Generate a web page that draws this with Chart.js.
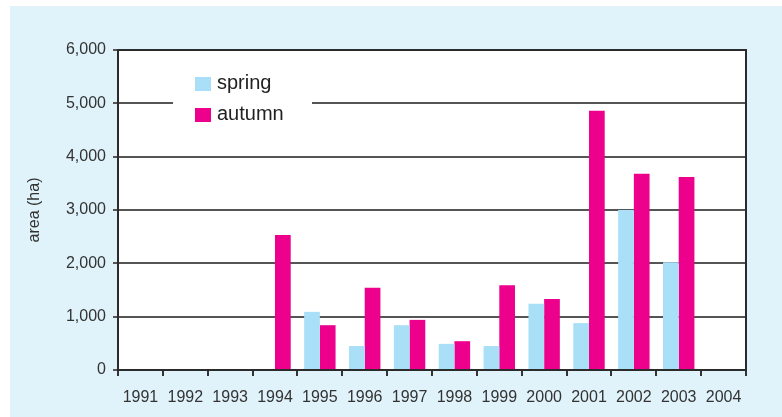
<!DOCTYPE html>
<html>
<head>
<meta charset="utf-8">
<script src="https://cdn.jsdelivr.net/npm/chart.js@4.4.0/dist/chart.umd.min.js"></script>
<style>
  html,body{margin:0;padding:0;background:#fff;}
  #wrap{position:absolute;left:10px;top:6px;width:772px;height:411px;background:#e0f2fa;}
</style>
</head>
<body>
<div id="wrap"><canvas id="c" width="772" height="411"></canvas></div>
<script>
const years = ['1991','1992','1993','1994','1995','1996','1997','1998','1999','2000','2001','2002','2003','2004'];
const spring = [null,null,null,null,1090,450,840,490,450,1240,880,3000,2020,null];
const autumn = [null,null,null,2530,840,1540,940,540,1590,1330,4860,3680,3620,null];
const yTicks = [0,1000,2000,3000,4000,5000,6000];

const FONT = "'Liberation Sans', Arial, sans-serif";

// white plot area behind the grid
const plotBg = {
  id:'plotBg',
  beforeDraw(chart){
    const {ctx, chartArea:a} = chart;
    ctx.save();
    ctx.fillStyle = '#fff';
    ctx.fillRect(a.left, a.top, a.right-a.left, a.bottom-a.top);
    ctx.restore();
  }
};

// legend box sits on top of the 5,000 gridline, so draw it after the grid
const insideLegend = {
  id:'insideLegend',
  afterDatasetsDraw(chart){
    const {ctx, chartArea:a} = chart;
    ctx.save();
    ctx.fillStyle = '#fff';
    ctx.fillRect(a.left+55, a.top+12, 139, 68);
    chart.data.datasets.forEach((ds,i)=>{
      const y = a.top + 27 + i*31;
      ctx.fillStyle = ds.backgroundColor;
      ctx.fillRect(a.left+77, y, 16, 14);
      ctx.fillStyle = '#222';
      ctx.font = '20px ' + FONT;
      ctx.textBaseline = 'middle';
      ctx.fillText(ds.label, a.left+99, y+6);
    });
    // frame
    ctx.strokeStyle = '#2b2b2b';
    ctx.lineWidth = 2;
    ctx.strokeRect(a.left, a.top, a.right-a.left, a.bottom-a.top);
    ctx.restore();
  }
};

new Chart(document.getElementById('c'),{
  type:'bar',
  data:{
    labels:years,
    datasets:[
      {label:'spring',data:spring,backgroundColor:'#a9dff7'},
      {label:'autumn',data:autumn,backgroundColor:'#ec008c'}
    ]
  },
  options:{
    responsive:false,
    animation:false,
    layout:{padding:{left:0,top:44,right:36,bottom:0}},
    datasets:{bar:{categoryPercentage:0.7,barPercentage:1}},
    plugins:{legend:{display:false},tooltip:{enabled:false}},
    scales:{
      x:{
        afterFit(s){s.height=47;},
        grid:{drawOnChartArea:false,drawTicks:true,tickLength:6,color:'#333',lineWidth:2},
        border:{display:false},
        ticks:{color:'#333',font:{family:FONT,size:16},padding:12,maxRotation:0,autoSkip:false}
      },
      y:{
        min:0,max:6000,
        afterFit(s){s.width=108;},
        afterBuildTicks(s){s.ticks=yTicks.map(v=>({value:v}));},
        grid:{color:'#555',lineWidth:2,tickLength:5,tickColor:'#555'},
        border:{display:false},
        ticks:{color:'#333',font:{family:FONT,size:16},padding:7,
          callback:v=>v.toLocaleString('en-US')},
        title:{display:true,text:'area (ha)',color:'#333',font:{family:FONT,size:16},padding:{top:15,bottom:0}}
      }
    }
  },
  plugins:[plotBg, insideLegend]
});
</script>
</body>
</html>
